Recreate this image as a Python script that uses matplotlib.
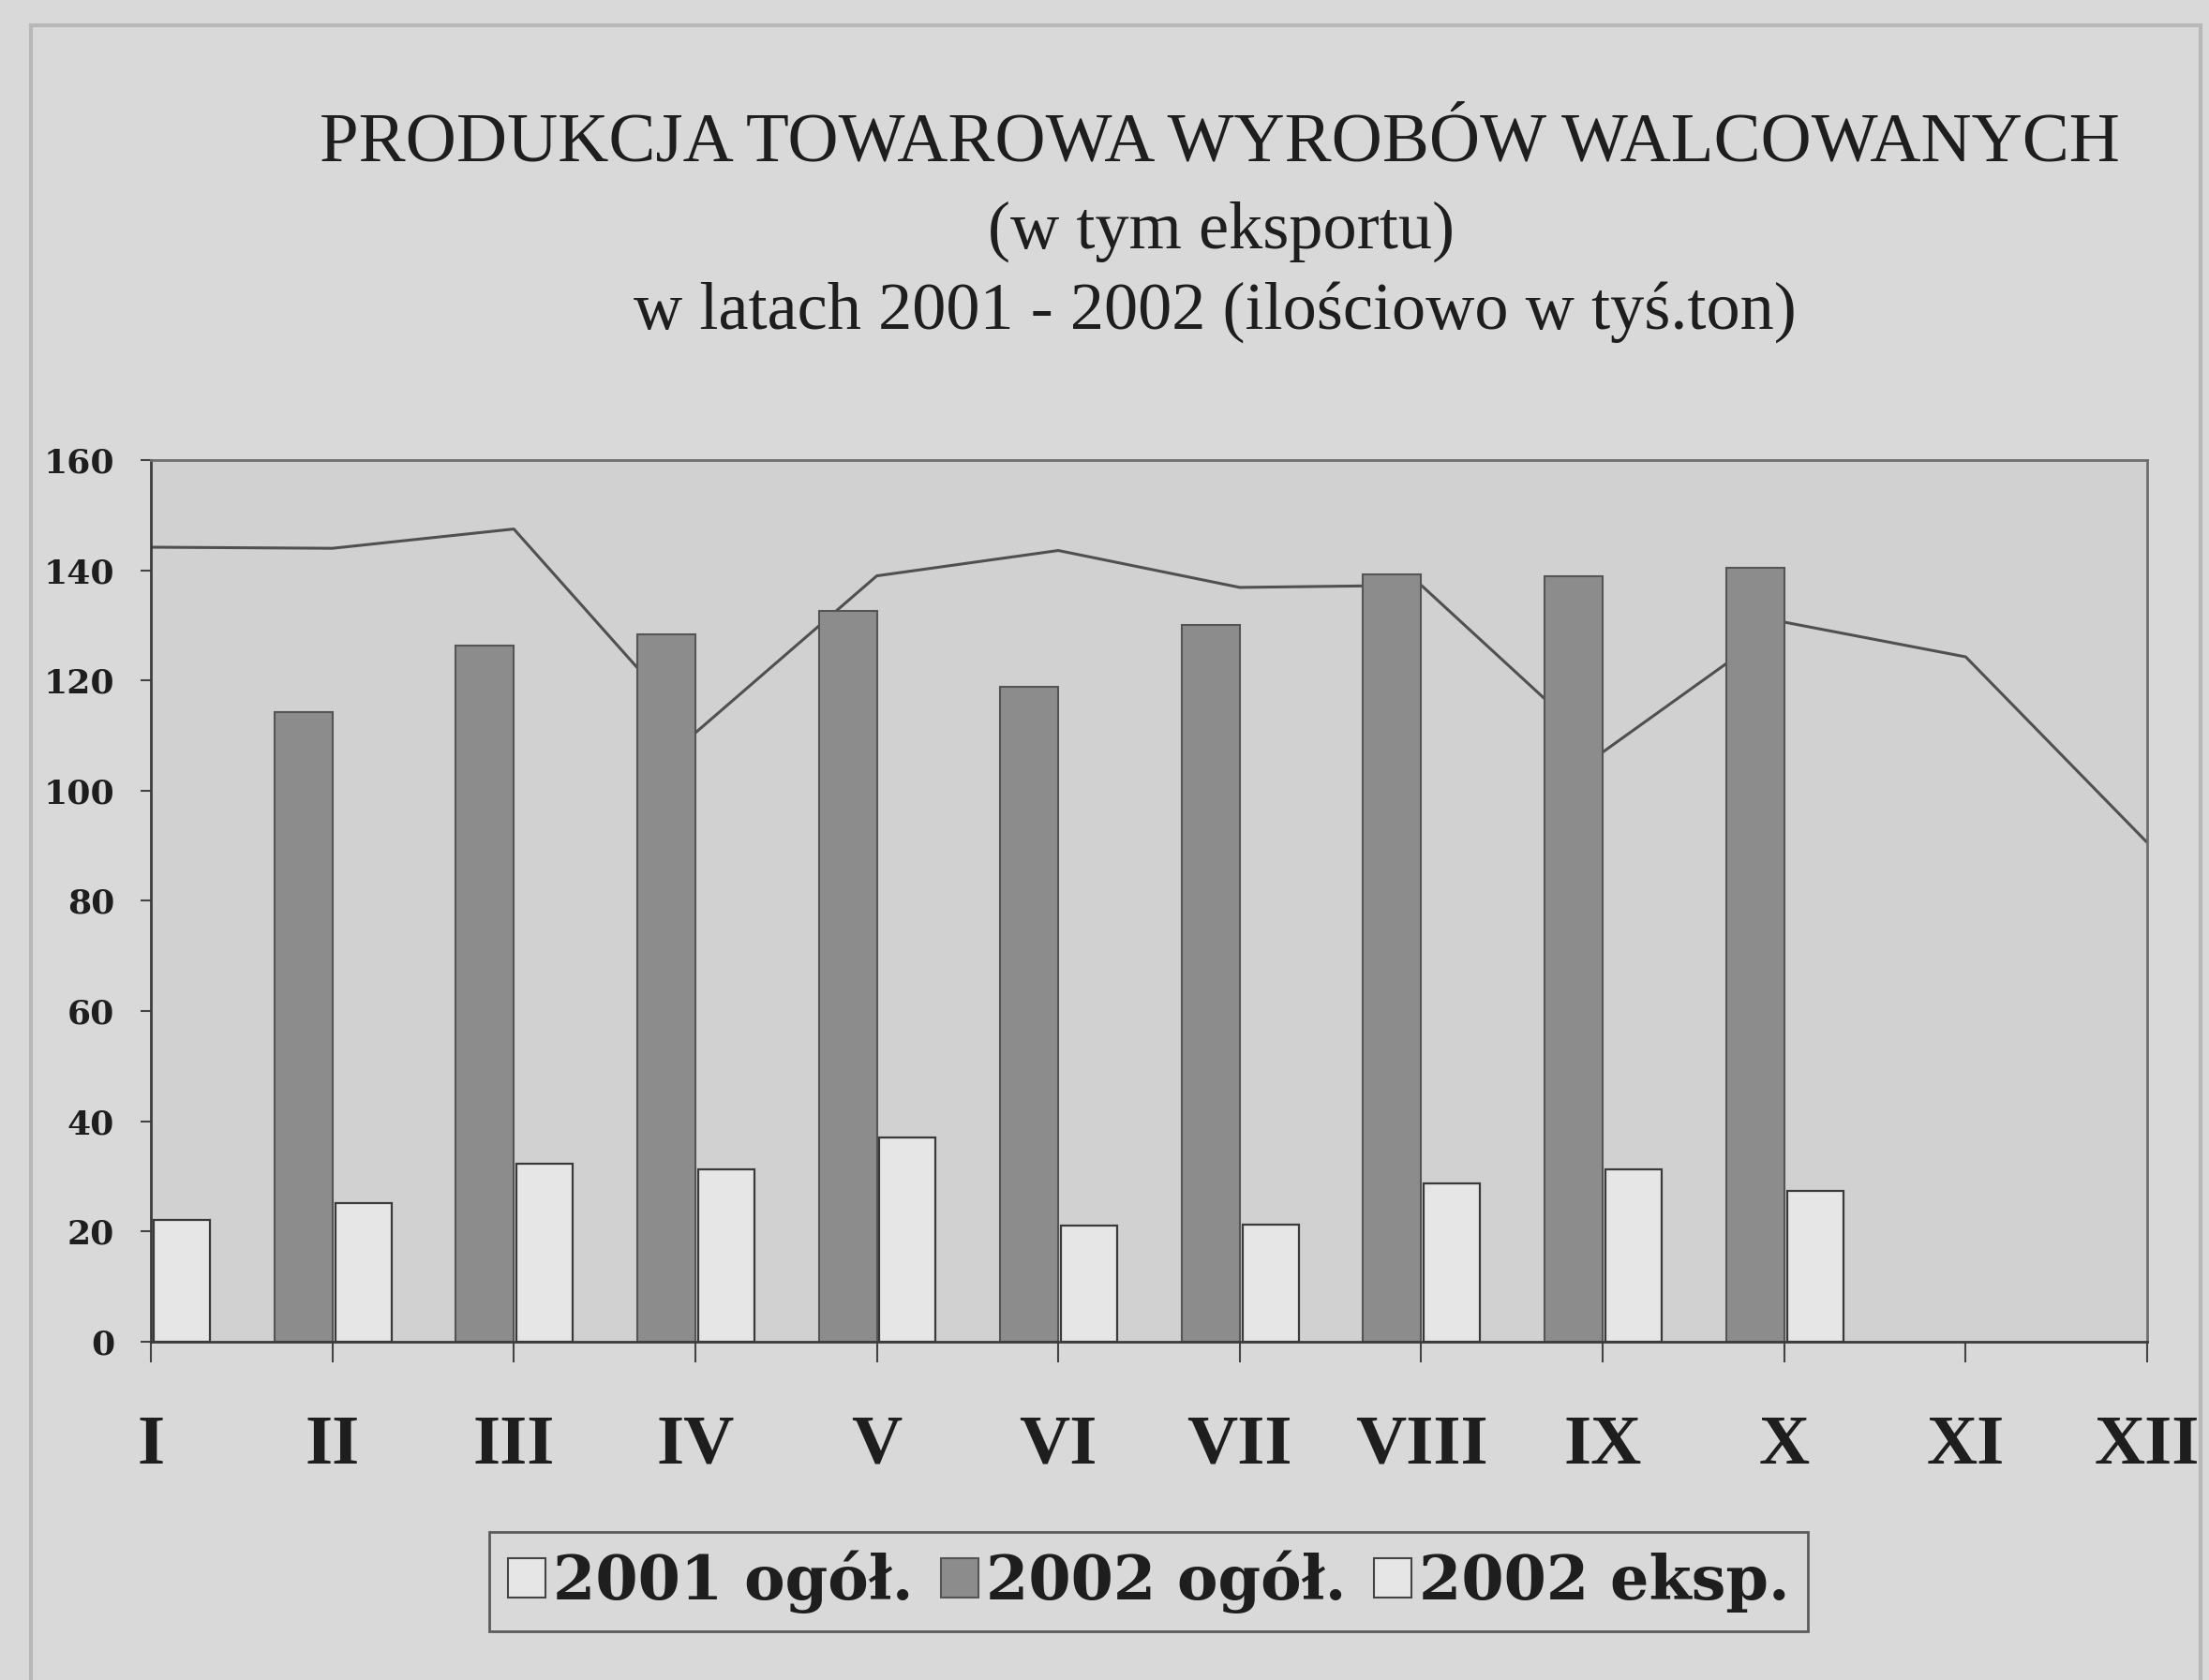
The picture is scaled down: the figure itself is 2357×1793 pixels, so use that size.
#!/usr/bin/python3

import numpy as np
import matplotlib
matplotlib.use('Agg')
import matplotlib.pyplot as plt
from matplotlib.patches import Patch, Rectangle

# months (roman numerals) and values in thousand tons
months = ['I', 'II', 'III', 'IV', 'V', 'VI', 'VII', 'VIII', 'IX', 'X', 'XI', 'XII']
total_2001 = [144.2, 144.0, 147.5, 110.5, 139.0, 143.6, 136.9, 137.3, 107.0, 130.6, 124.3, 90.6]
# January bar of 2002 is cut off by the axis in the original, so unknown
total_2002 = [np.nan, 114.3, 126.3, 128.4, 132.7, 118.9, 130.1, 139.3, 138.9, 140.4, np.nan, np.nan]
export_2002 = [22.1, 25.2, 32.3, 31.3, 37.1, 21.0, 21.3, 28.7, 31.3, 27.4, np.nan, np.nan]

title = 'PRODUKCJA TOWAROWA WYROBÓW WALCOWANYCH'
subtitle1 = '(w tym eksportu)'
subtitle2 = 'w latach 2001 - 2002 (ilościowo w tyś.ton)'
legend_labels = ['2001 ogół.', '2002 ogół.', '2002 eksp.']

plt.rcParams['font.family'] = ['Liberation Serif', 'DejaVu Serif']
wide = ['DejaVu Serif', 'Liberation Serif']   # the scan stretches some texts sideways

bg = '#d9d9d9'
ink = '#1e1e1e'
dark = '#8c8c8c'
light = '#e6e6e6'

fig = plt.figure(figsize=(23.57, 17.93), dpi=100, facecolor=bg)
ax = fig.add_axes([0.0683, 0.2014, 0.9037, 0.5247], facecolor='#d1d1d1')

x = np.arange(len(months))

ax.plot(x, total_2001, color='#505050', lw=2.2, zorder=1)
ax.bar(x, total_2002, width=-0.32, align='edge', color=dark,
       edgecolor='#555555', linewidth=1.5, zorder=2)
ax.bar(x + 0.015, export_2002, width=0.31, align='edge', color=light,
       edgecolor='#3a3a3a', linewidth=1.6, zorder=2)

ax.set_xlim(0, 11)
ax.set_ylim(0, 160)
ax.set_yticks(range(0, 161, 20))
ax.set_xticks(x)
ax.set_xticklabels(months)

for lab in ax.get_yticklabels():
    lab.set_fontweight('bold')
    lab.set_family(wide)
for lab in ax.get_xticklabels():
    lab.set_fontweight('bold')
ax.tick_params(axis='y', labelsize=26, length=8, width=1.5, color='#444444',
               pad=20, labelcolor=ink)
ax.tick_params(axis='x', labelsize=54, length=16, width=1.5, color='#444444',
               pad=40, labelcolor=ink)

for side in ['left', 'bottom']:
    ax.spines[side].set_color('#3c3c3c')
    ax.spines[side].set_linewidth(2)
for side in ['top', 'right']:
    ax.spines[side].set_color('#6e6e6e')
    ax.spines[side].set_linewidth(2)

fig.text(0.552, 0.914, title, ha='center', va='center', fontsize=54, color=ink)
fig.text(0.553, 0.862, subtitle1, ha='center', va='center', fontsize=52, color=ink)
fig.text(0.550, 0.814, subtitle2, ha='center', va='center', fontsize=52, color=ink)

handles = [Patch(facecolor=light, edgecolor='#444444', linewidth=1.5),
           Patch(facecolor=dark, edgecolor='#555555', linewidth=1.5),
           Patch(facecolor=light, edgecolor='#444444', linewidth=1.5)]
leg = fig.legend(handles, legend_labels, loc='center', bbox_to_anchor=(0.52, 0.0586),
                 ncol=3, frameon=True, fancybox=False, edgecolor='#3c3c3c',
                 facecolor=bg, handlelength=0.62, handleheight=0.62, handletextpad=0.12,
                 columnspacing=0.45, borderpad=0.3, borderaxespad=0,
                 prop={'family': wide, 'weight': 'bold', 'size': 47})
leg.get_frame().set_linewidth(2)
for t in leg.get_texts():
    t.set_color(ink)

# faint frame of the scanned page
fig.patches.append(Rectangle((0.014, -0.02), 0.982, 1.005, transform=fig.transFigure,
                             fill=False, edgecolor='#b8b8b8', linewidth=3))

fig.savefig('out.png', dpi=100, facecolor=bg)
